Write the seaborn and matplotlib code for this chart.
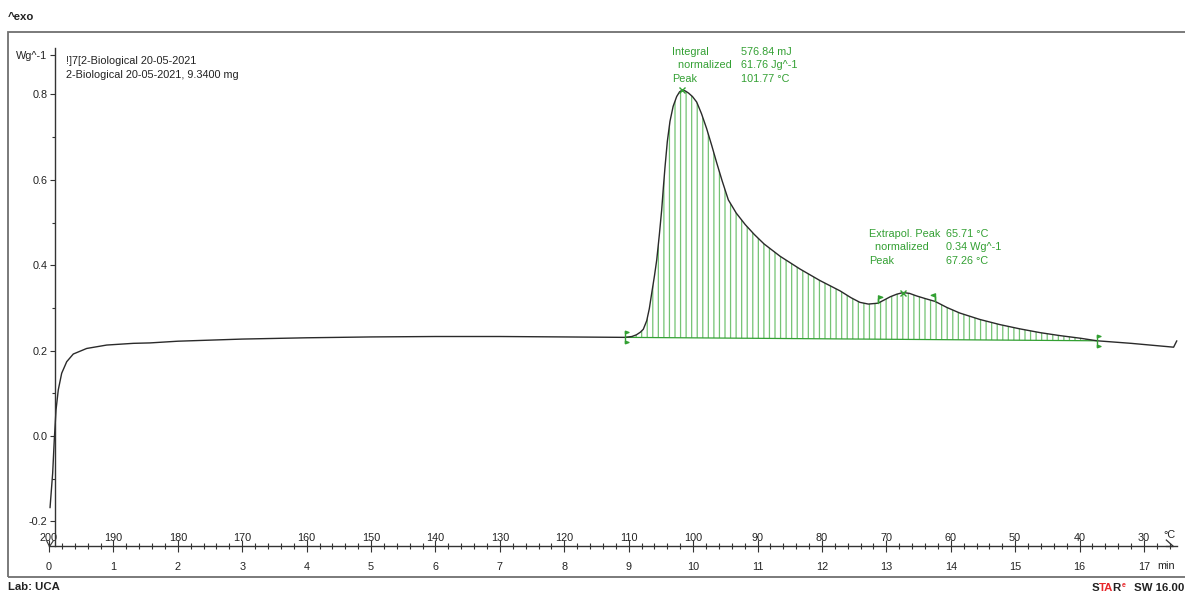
import numpy as np
import pandas as pd
import matplotlib
matplotlib.use("Agg")
import matplotlib.pyplot as plt
import seaborn as sns
from matplotlib.path import Path
from matplotlib.patches import Rectangle
from matplotlib.ticker import FixedLocator, MultipleLocator, FixedFormatter

# ---------------- data ----------------
time_min = [0.016, 0.057, 0.082, 0.109, 0.144, 0.197, 0.275, 0.377, 0.585, 0.896,
            1.309, 1.568, 2.0, 3.0, 4.0, 5.0, 6.0, 7.0, 8.0, 8.943,
            9.05, 9.12, 9.18, 9.227, 9.28, 9.32, 9.357, 9.40, 9.435, 9.475,
            9.512, 9.54, 9.564, 9.60, 9.641, 9.69, 9.745, 9.79, 9.83, 9.88,
            9.93, 9.99, 10.056, 10.13, 10.21, 10.29, 10.366, 10.45, 10.547, 10.67,
            10.81, 10.95, 11.1, 11.35, 11.66, 11.97, 12.28, 12.45, 12.59, 12.72,
            12.87, 12.96, 13.06, 13.16, 13.26, 13.36, 13.47, 13.6, 13.76, 13.94,
            14.14, 14.45, 14.76, 15.07, 15.39, 15.7, 16.01, 16.27, 16.8, 17.46,
            17.51]
heat_flow = [-0.168, -0.087, -0.009, 0.061, 0.108, 0.147, 0.174, 0.192, 0.205, 0.213,
             0.217, 0.218, 0.222, 0.227, 0.230, 0.232, 0.233, 0.233, 0.232, 0.231,
             0.233, 0.237, 0.243, 0.250, 0.270, 0.298, 0.334, 0.375, 0.412, 0.470,
             0.529, 0.585, 0.630, 0.690, 0.737, 0.772, 0.795, 0.806, 0.810, 0.808,
             0.803, 0.795, 0.782, 0.755, 0.720, 0.680, 0.640, 0.598, 0.553, 0.522,
             0.495, 0.472, 0.450, 0.421, 0.391, 0.364, 0.340, 0.324, 0.313, 0.309,
             0.311, 0.318, 0.326, 0.332, 0.336, 0.334, 0.328, 0.322, 0.315, 0.301,
             0.288, 0.273, 0.261, 0.251, 0.242, 0.235, 0.229, 0.223, 0.217, 0.208,
             0.223]

integration_limits = [8.943, 16.27]
extrapol_limits = [12.87, 13.76]
peak_times = [9.83, 13.26]

y_major = [-0.2, 0.0, 0.2, 0.4, 0.6, 0.8]
y_minor = [-0.1, 0.1, 0.3, 0.5, 0.7]
y_unit = "Wg^-1"
time_ticks = list(range(0, 18))
temp_ticks = [200, 190, 180, 170, 160, 150, 140, 130, 120, 110, 100, 90, 80, 70, 60, 50, 40, 30]

header_lines = ["!]7[2-Biological 20-05-2021", "2-Biological 20-05-2021, 9.3400 mg"]
peak1_names = ["Integral", "  normalized", "Peak"]
peak1_values = ["576.84 mJ", "61.76 Jg^-1", "101.77 °C"]
peak2_names = ["Extrapol. Peak", "  normalized", "Peak"]
peak2_values = ["65.71 °C", "0.34 Wg^-1", "67.26 °C"]

df = pd.DataFrame({"time": time_min, "hf": heat_flow})

# ---------------- style ----------------
sns.set_theme(style="white")
plt.rcParams["font.family"] = ["Liberation Sans", "DejaVu Sans"]
plt.rcParams["hatch.linewidth"] = 0.9

GREEN = "#33a033"
HATCH = "#74c374"
DARK = "#222222"
RED = "#e8262a"
FS = 7.8

W, H = 1185, 593
fig = plt.figure(figsize=(W / 100, H / 100), dpi=100)
fig.patch.set_facecolor("white")


def fx(x):
    return x / W


def fy(y):
    return 1 - y / H


# axes geometry (pixels)
x0_px, x1_px = 49, 1177
px_per_min = 64.41
yt_px, yb_px = 48, 546
zero_px, px_per_unit = 436, 427.0

ax = fig.add_axes([fx(x0_px), fy(yb_px), (x1_px - x0_px) / W, (yb_px - yt_px) / H])
ax.patch.set_alpha(0)
ax.set_xlim(0, (x1_px - x0_px) / px_per_min)
ax.set_ylim((zero_px - yb_px) / px_per_unit, (zero_px - yt_px) / px_per_unit)

# integration hatch (polygon closed by the straight baseline)
t_arr = df["time"].to_numpy()
h_arr = df["hf"].to_numpy()
mask = (t_arr >= integration_limits[0]) & (t_arr <= integration_limits[1])
ax.fill(t_arr[mask], h_arr[mask], facecolor="none", edgecolor=HATCH, hatch="|||", linewidth=0)
base_vals = [h_arr[t_arr == integration_limits[0]][0], h_arr[t_arr == integration_limits[1]][0]]
ax.plot(integration_limits, base_vals, color=GREEN, lw=0.9)

# DSC curve
sns.lineplot(data=df, x="time", y="hf", ax=ax, color="#2a2a2a", linewidth=1.0,
             estimator=None, sort=False, clip_on=False)
ax.set_xlabel("")
ax.set_ylabel("")

# markers
flag_lim = Path([(0, -1), (0, 1), (0, 1), (0.55, 0.8), (0, 0.6), (0, 1),
                 (0, -1), (0.55, -0.8), (0, -0.6), (0, -1)],
                [Path.MOVETO, Path.LINETO, Path.MOVETO, Path.LINETO, Path.LINETO, Path.CLOSEPOLY,
                 Path.MOVETO, Path.LINETO, Path.LINETO, Path.CLOSEPOLY])
ax.plot(integration_limits, base_vals, ls="none", marker=flag_lim, markersize=9,
        color=GREEN, mfc=GREEN, mec=GREEN, mew=1.0)

flag_r = Path([(0, 0), (0, 1), (0.55, 0.8), (0, 0.6), (0, 1)],
              [Path.MOVETO, Path.LINETO, Path.LINETO, Path.LINETO, Path.CLOSEPOLY])
flag_l = Path([(0, 0), (0, 1), (-0.55, 0.8), (0, 0.6), (0, 1)],
              [Path.MOVETO, Path.LINETO, Path.LINETO, Path.LINETO, Path.CLOSEPOLY])
ext_vals = [h_arr[t_arr == v][0] for v in extrapol_limits]
ax.plot([extrapol_limits[0]], [ext_vals[0]], ls="none", marker=flag_r, markersize=11,
        color=GREEN, mfc=GREEN, mec=GREEN, mew=1.0)
ax.plot([extrapol_limits[1]], [ext_vals[1]], ls="none", marker=flag_l, markersize=11,
        color=GREEN, mfc=GREEN, mec=GREEN, mew=1.0)
peak_vals = [h_arr[t_arr == v][0] for v in peak_times]
ax.plot(peak_times, peak_vals, ls="none", marker="x", markersize=5, color=GREEN, mew=1.0)

# spines
for s in ["top", "right"]:
    ax.spines[s].set_visible(False)
ax.spines["left"].set_position(("data", 6 / px_per_min))
for s in ["left", "bottom"]:
    ax.spines[s].set_color("#333333")
    ax.spines[s].set_linewidth(1.0)

# y axis ticks
wg_pos = (zero_px - 55) / px_per_unit
ax.yaxis.set_major_locator(FixedLocator(y_major + [wg_pos]))
ax.yaxis.set_major_formatter(FixedFormatter([f"{v:.1f}" for v in y_major] + [y_unit]))
ax.yaxis.set_minor_locator(FixedLocator(y_minor))
ax.tick_params(axis="y", which="major", direction="out", length=3.8, width=0.8,
               color="#333333", labelsize=FS, labelcolor=DARK, pad=1.5, left=True)
ax.tick_params(axis="y", which="minor", direction="out", length=2.3, width=0.8,
               color="#333333", left=True)

# x axis ticks (time below)
ax.xaxis.set_major_locator(FixedLocator(time_ticks))
ax.xaxis.set_minor_locator(MultipleLocator(0.2))
ax.tick_params(axis="x", which="major", direction="inout", length=8.0, width=0.8,
               color="#333333", labelsize=FS, labelcolor=DARK, pad=7.5, bottom=True)
ax.tick_params(axis="x", which="minor", direction="inout", length=4.8, width=0.8,
               color="#333333", bottom=True)
ax.grid(False)

# temperature scale above the bottom axis line
secax = ax.secondary_xaxis(0, functions=(lambda t: 200 - 10 * t, lambda T: (200 - T) / 10))
secax.set_alignment("top")
secax.xaxis.set_major_locator(FixedLocator(temp_ticks))
secax.xaxis.set_major_formatter(FixedFormatter([str(v) for v in temp_ticks]))
secax.xaxis.set_minor_locator(FixedLocator([]))
secax.tick_params(axis="x", which="both", length=0, labelsize=FS, labelcolor=DARK, pad=2.5)
for sp in secax.spines.values():
    sp.set_visible(False)

# axis end decorations
arrow = Path([(-1, 0.9), (0, 0), (-1, 0)], [Path.MOVETO, Path.LINETO, Path.LINETO])
ax.plot([0.9965], [0], transform=ax.transAxes, marker=arrow, markersize=11, color="#333333",
        mfc="none", mew=0.9, clip_on=False)
vee = Path([(-0.5, 1), (0, 0), (0.6, 0.9)], [Path.MOVETO, Path.LINETO, Path.LINETO])
ax.plot([0], [0], transform=ax.transAxes, marker=vee, markersize=9, color="#333333",
        mfc="none", mew=0.8, clip_on=False)

# ---------------- texts ----------------
def ftext(x, y, s, **kw):
    kw.setdefault("fontsize", FS)
    kw.setdefault("color", DARK)
    kw.setdefault("ha", "left")
    kw.setdefault("va", "center")
    return fig.text(fx(x), fy(y), s, **kw)


ftext(1163, 535, "°C")
ftext(1157, 566, "min")

ftext(66, 61, header_lines[0])
ftext(66, 75, header_lines[1])

for i, (n, v) in enumerate(zip(peak1_names, peak1_values)):
    ftext(672, 52 + 13.5 * i, n, color=GREEN)
    ftext(741, 52 + 13.5 * i, v, color=GREEN)
for i, (n, v) in enumerate(zip(peak2_names, peak2_values)):
    ftext(869, 234 + 13.5 * i, n, color=GREEN)
    ftext(946, 234 + 13.5 * i, v, color=GREEN)

ftext(8, 17, "^exo", fontweight="bold", fontsize=8.2)
ftext(8, 587, "Lab: UCA", fontweight="bold", fontsize=8.2)

# STARe SW 16.00 logo text, pieces placed one after another
renderer = fig.canvas.get_renderer()
xpos = 1092
base_y = 591
for piece, col in [("S", DARK), ("TA", RED), ("R", DARK)]:
    tt = ftext(xpos, base_y, piece, fontweight="bold", fontsize=8.2, va="baseline", color=col)
    xpos = tt.get_window_extent(renderer).x1 - 0.8
ftext(xpos + 1.5, base_y - 4, "e", fontweight="bold", fontsize=5, va="baseline", color=RED)
ftext(1134, base_y, "SW 16.00", fontweight="bold", fontsize=8.2, va="baseline")

# outer frame
fig.patches.append(Rectangle((fx(8), fy(577)), fx(1200 - 8), fy(32) - fy(577),
                             transform=fig.transFigure, fill=False, edgecolor="#707070",
                             linewidth=1.3))

fig.savefig("out.png", dpi=100)
